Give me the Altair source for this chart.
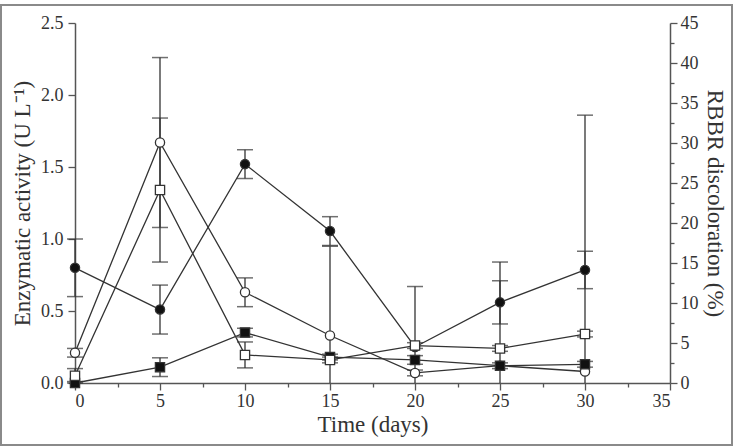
import altair as alt
import pandas as pd

days = [0, 5, 10, 15, 20, 25, 30]
series_names = ["fc", "oc", "fs", "os"]
fc = [0.80, 0.51, 1.52, 1.055, 0.25, 0.56, 0.785]
fc_err = [0.20, 0.17, 0.10, 0.10, 0.42, 0.15, 0.13]
oc = [0.21, 1.67, 0.63, 0.33, 0.07, 0.12, 0.08]
oc_err = [0.03, 0.59, 0.10, 0.62, 0.02, 0.72, 1.78]
fs = [0.0, 0.11, 0.35, 0.18, 0.16, 0.12, 0.13]
fs_err = [0.01, 0.065, 0.03, 0.02, 0.03, 0.02, 0.02]
os_ = [0.05, 1.34, 0.195, 0.16, 0.26, 0.24, 0.34]
os_err = [0.05, 0.50, 0.09, 0.02, 0.02, 0.02, 0.02]

vals = {"fc": (fc, fc_err), "oc": (oc, oc_err), "fs": (fs, fs_err), "os": (os_, os_err)}
rows = []
for s in series_names:
    v, e = vals[s]
    for d, m, er in zip(days, v, e):
        lo = m - er
        rows.append({"day": d, "s": s, "v": m, "hi": m + er, "lo": max(lo, 0.0),
                     "locap": lo >= 0, "pct": m * 18})
df = pd.DataFrame(rows)

W, H = 595, 360
FONT = "Liberation Serif"
INK = "#333333"

common = dict(labelFont=FONT, titleFont=FONT, labelFontSize=18, titleFontSize=23,
              titleFontWeight="normal", labelColor=INK, titleColor=INK,
              domainColor="#555555", tickColor="#555555", domainWidth=1.5,
              tickWidth=1.3, grid=False)

xscale = alt.Scale(domain=[0, 35], nice=False)
yscale = alt.Scale(domain=[0, 2.5], nice=False)

xaxis = alt.Axis(title="Time (days)", values=[v * 2.5 for v in range(15)],
                 labelExpr="datum.value % 5 == 0 ? datum.label : ''",
                 tickSize={"condition": {"test": "datum.value % 5 == 0", "value": 7}, "value": 4},
                 labelPadding=2, titlePadding=3, **common)
yaxis = alt.Axis(title="Enzymatic activity (U L⁻¹)", values=[v * 0.25 for v in range(11)],
                 labelExpr="abs(datum.value*2 - round(datum.value*2)) < 0.001 ? format(datum.value, '.1f') : ''",
                 tickSize={"condition": {"test": "abs(datum.value*2 - round(datum.value*2)) < 0.001", "value": 7}, "value": 4},
                 labelPadding=5, titlePadding=6, **common)

base = alt.Chart(df)
X = alt.X("day:Q", scale=xscale, axis=xaxis)
Y = alt.Y("v:Q", scale=yscale, axis=yaxis)

lines = base.mark_line(color=INK, strokeWidth=1.3).encode(
    x=X, y=Y, detail="s:N", order="day:Q")
rules = base.mark_rule(color=INK, strokeWidth=1.3).encode(
    x="day:Q", y=alt.Y("lo:Q", scale=yscale), y2="hi:Q")
captop = base.mark_tick(color=INK, orient="horizontal", size=16, thickness=1.5).encode(
    x="day:Q", y=alt.Y("hi:Q", scale=yscale))
capbot = base.transform_filter("datum.locap").mark_tick(
    color=INK, orient="horizontal", size=16, thickness=1.5).encode(
    x="day:Q", y=alt.Y("lo:Q", scale=yscale))
points = base.mark_point(size=85, strokeWidth=1.3, opacity=1, color=INK).encode(
    x="day:Q", y=alt.Y("v:Q", scale=yscale),
    shape=alt.Shape("s:N", scale=alt.Scale(domain=series_names,
                    range=["circle", "circle", "square", "square"]), legend=None),
    fill=alt.Fill("s:N", scale=alt.Scale(domain=series_names,
                  range=["#111111", "white", "#111111", "white"]), legend=None),
)

frame = alt.Chart(pd.DataFrame({"a": [0]})).mark_rect(
    fill=None, stroke="#8a8a8a", strokeWidth=2).encode(
    x=alt.value(-74), x2=alt.value(657), y=alt.value(-18), y2=alt.value(422))

left = alt.layer(frame, lines, rules, captop, capbot, points)

right = base.mark_point(opacity=0).encode(
    x=alt.X("day:Q", scale=xscale),
    y=alt.Y("pct:Q", scale=alt.Scale(domain=[0, 45], nice=False),
            axis=alt.Axis(orient="right", title="RBBR discoloration (%)",
                          values=[v * 2.5 for v in range(19)],
                          labelExpr="datum.value % 5 == 0 ? datum.label : ''",
                          tickSize={"condition": {"test": "datum.value % 5 == 0", "value": 7}, "value": 4},
                          labelPadding=3, titlePadding=4, **common)))

chart = alt.layer(left, right).resolve_scale(y="independent").properties(
    width=W, height=H,
    background="white",
    autosize=alt.AutoSizeParams(type="none"),
    padding={"left": 75, "top": 23, "right": 65, "bottom": 64},
).configure_view(stroke=None)

chart.save("out.html", embed_options={"renderer": "svg", "actions": False})
